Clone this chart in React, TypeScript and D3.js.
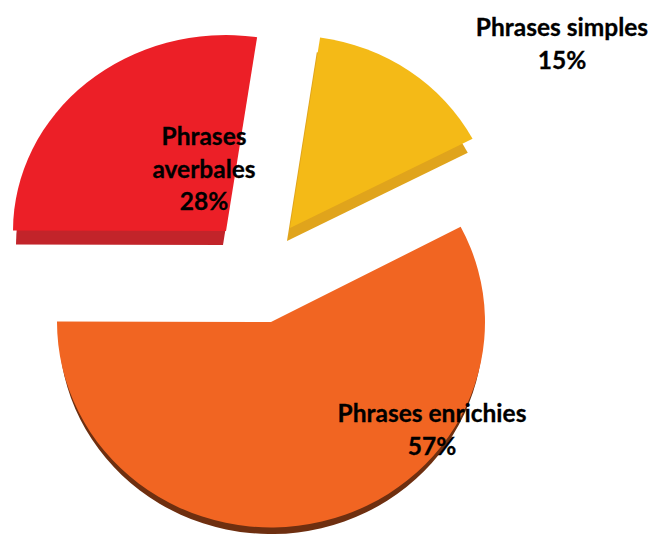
import { arc, pie, scaleOrdinal } from 'd3';

const categories = ['Phrases simples', 'Phrases enrichies', 'Phrases averbales'];
const percentLabels = ['15%', '57%', '28%'];
// share of the turn each slice really covers
const sliceShares = [15, 57.7, 27.3];

const faceColors = ['#f4ba17', '#f16522', '#ec1f27'];
const sideColors = ['#e0a41c', '#6e2f10', '#c2242a'];

// each slice is pulled out of the pie on its own
const sliceLayout = [
  { cx: 290, cy: 228, radius: 206, tilt: 0.935, sideRadius: 204, dx: -3, depth: 13 },
  { cx: 271, cy: 322, radius: 214, tilt: 0.96, sideRadius: 212, dx: 0, depth: 8.5 },
  { cx: 226, cy: 231, radius: 213, tilt: 0.92, sideRadius: 207, dx: -3, depth: 14 },
];

const labelLayout = [
  { x: 562, y: 36, lines: ['Phrases simples', percentLabels[0]] },
  { x: 432, y: 422, lines: ['Phrases enrichies', percentLabels[1]] },
  { x: 204, y: 145, lines: ['Phrases', 'averbales', percentLabels[2]] },
];

const width = 652,
  height = 534;

export default function App() {
  const slices = pie<number>()
    .sort(null)
    .startAngle((8.4 * Math.PI) / 180)
    .endAngle((368.4 * Math.PI) / 180)(sliceShares);

  const face = scaleOrdinal<string, string>().domain(categories).range(faceColors);
  const side = scaleOrdinal<string, string>().domain(categories).range(sideColors);

  return (
    <svg
      width={width}
      height={height}
      style={{ position: 'absolute', left: 0, top: 0, background: '#fff' }}
    >
      {slices.map((d, i) => {
        const s = sliceLayout[i];
        const facePath = arc<any>().innerRadius(0).outerRadius(s.radius)(d) as string;
        const sidePath = arc<any>().innerRadius(0).outerRadius(s.sideRadius)(d) as string;
        return (
          <g key={categories[i]}>
            <path
              d={sidePath}
              fill={side(categories[i])}
              transform={`translate(${s.cx + s.dx},${s.cy + s.depth}) scale(1,${s.tilt})`}
            />
            <path
              d={facePath}
              fill={face(categories[i])}
              transform={`translate(${s.cx},${s.cy}) scale(1,${s.tilt})`}
            />
          </g>
        );
      })}
      {labelLayout.map((l, i) => (
        <text
          key={i}
          x={l.x}
          y={l.y}
          textAnchor="middle"
          fontFamily="Lato, sans-serif"
          fontWeight={700}
          fontSize={24.5}
          fill="#000"
          stroke="#000"
          strokeWidth={0.3}
        >
          {l.lines.map((t, j) => (
            <tspan key={j} x={l.x} dy={j === 0 ? 0 : 32.5}>
              {t}
            </tspan>
          ))}
        </text>
      ))}
    </svg>
  );
}
